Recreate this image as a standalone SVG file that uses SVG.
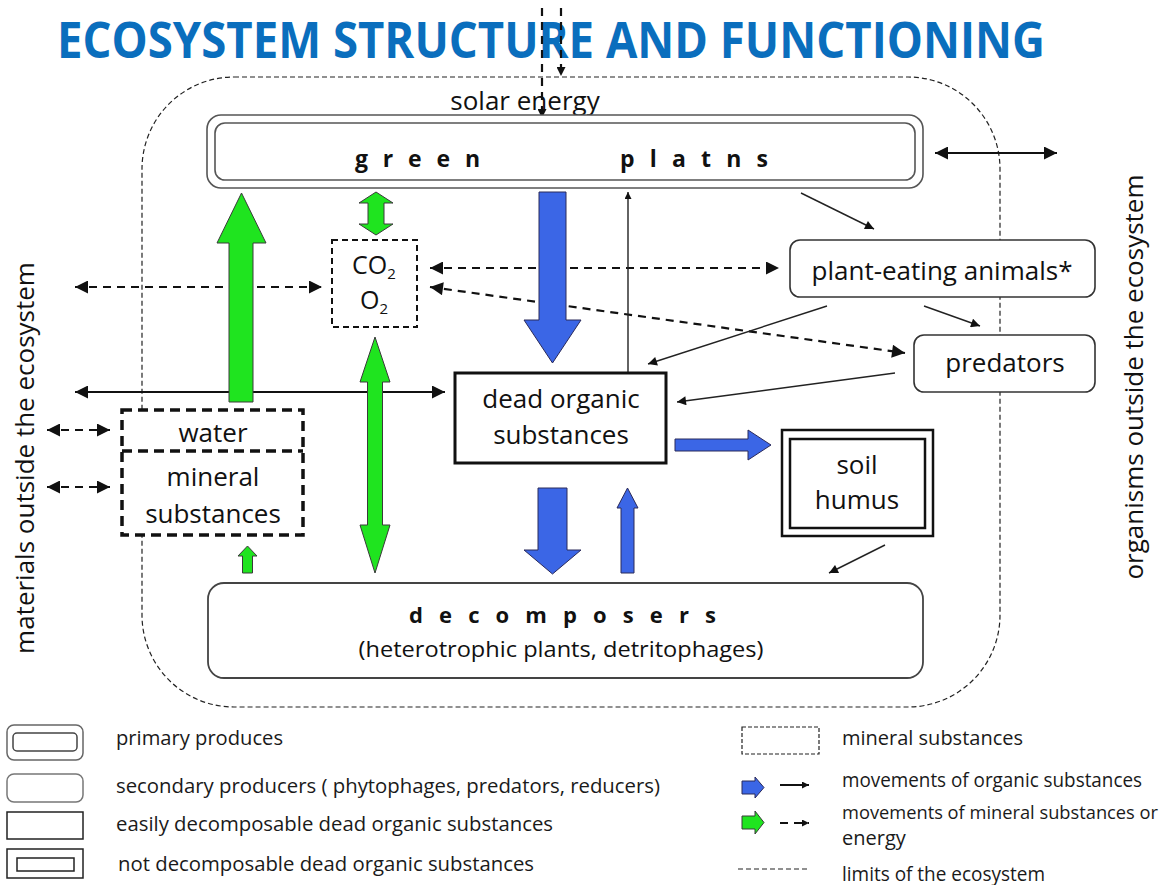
<svg xmlns="http://www.w3.org/2000/svg" width="1176" height="885" viewBox="0 0 1176 885">
<style>
.t{font-family:"Open Sans","Liberation Sans",sans-serif;fill:#111;}
.lbl{font-size:26px;text-anchor:middle;}
.leg{font-size:20px;fill:#1a1a1a;}
.box{fill:#fff;stroke:#333;stroke-width:1.6;}
.gr{fill:#1FE41F;stroke:#3a3a3a;stroke-width:1;}
.bl{fill:#3B66E6;stroke:#2a2a5a;stroke-width:1;}
.dash{fill:none;stroke:#111;stroke-width:2.2;stroke-dasharray:8 6;}
.sol{fill:none;stroke:#111;stroke-width:2;}
.thin{fill:none;stroke:#222;stroke-width:1.4;}
</style>
<defs>
<marker id="ah" viewBox="0 0 10 10" refX="10" refY="5" markerWidth="15" markerHeight="13" markerUnits="userSpaceOnUse" orient="auto-start-reverse"><path d="M0,0 L10,5 L0,10 Z" fill="#111"/></marker>
<marker id="as" viewBox="0 0 10 10" refX="10" refY="5" markerWidth="11" markerHeight="9" markerUnits="userSpaceOnUse" orient="auto-start-reverse"><path d="M0,0 L10,5 L0,10 Z" fill="#111"/></marker>
<marker id="at" viewBox="0 0 10 10" refX="10" refY="5" markerWidth="9" markerHeight="7" markerUnits="userSpaceOnUse" orient="auto-start-reverse"><path d="M0,0 L10,5 L0,10 Z" fill="#111"/></marker>
</defs>
<rect width="1176" height="885" fill="#fff"/>

<text class="t" x="57" y="58" font-size="50" font-weight="bold" fill="#0A6EBD" style="fill:#0A6EBD" textLength="988" lengthAdjust="spacingAndGlyphs">ECOSYSTEM STRUCTURE AND FUNCTIONING</text>

<g id="ecosystem-limit">
<rect x="142" y="77" width="858" height="630" rx="92" ry="92" fill="none" stroke="#222" stroke-width="1.2" stroke-dasharray="5 3"/>
</g>

<g id="outside-labels">
<text class="t" font-size="26" text-anchor="middle" transform="translate(34,458) rotate(-90)">materials outside the ecosystem</text>
<text class="t" font-size="26" text-anchor="middle" transform="translate(1143,377) rotate(-90)">organisms outside the ecosystem</text>
</g>

<g id="connectors">
<line class="dash" x1="542" y1="8" x2="542" y2="118" stroke-dasharray="9 5" marker-end="url(#as)"/>
<line class="dash" x1="561" y1="8" x2="561" y2="76" stroke-dasharray="9 5" marker-end="url(#as)"/>
<line class="sol" x1="935" y1="153" x2="1057" y2="153" stroke-width="2.5" marker-start="url(#ah)" marker-end="url(#ah)"/>
<line class="sol" x1="75" y1="392" x2="445" y2="392" marker-start="url(#ah)" marker-end="url(#ah)"/>
<line class="dash" x1="75" y1="287" x2="322" y2="287" marker-start="url(#ah)" marker-end="url(#ah)"/>
<line class="dash" x1="430" y1="268" x2="779" y2="268" marker-start="url(#ah)" marker-end="url(#ah)"/>
<line class="dash" x1="430" y1="287" x2="905" y2="353" marker-start="url(#ah)" marker-end="url(#ah)"/>
<line class="dash" x1="47" y1="430" x2="110" y2="430" marker-start="url(#ah)" marker-end="url(#ah)"/>
<line class="dash" x1="47" y1="487" x2="110" y2="487" marker-start="url(#ah)" marker-end="url(#ah)"/>
<line class="thin" x1="628" y1="372" x2="628" y2="192" stroke-width="1.2" marker-end="url(#at)"/>
<line class="thin" x1="801" y1="193" x2="874" y2="229" marker-end="url(#as)"/>
<line class="thin" x1="924" y1="306" x2="980" y2="326" marker-end="url(#as)"/>
<line class="thin" x1="827" y1="306" x2="648" y2="364" marker-end="url(#as)"/>
<line class="thin" x1="895" y1="373" x2="677" y2="402" marker-end="url(#as)"/>
<line class="thin" x1="885" y1="545" x2="829" y2="573" marker-end="url(#as)"/>
<path class="gr" d="M229,402 L229,243 L217,243 L241.5,193 L266,243 L253,243 L253,402 Z"/>
<path class="gr" d="M376,192 L393,203 L384,203 L384,224 L393,224 L376,235 L359,224 L368,224 L368,203 L359,203 Z"/>
<path class="gr" d="M375,337 L390,382 L382.5,382 L382.5,525 L390,525 L375,573 L360,525 L367.5,525 L367.5,382 L360,382 Z"/>
<path class="gr" d="M242.5,573 L242.5,556 L238,556 L247.5,546 L257,556 L252.5,556 L252.5,573 Z"/>
<path class="bl" d="M539,192 L566,192 L566,320 L581,320 L552.5,363 L524,320 L539,320 Z"/>
<path class="bl" d="M538,488 L567,488 L567,550 L581,550 L552.5,574 L524,550 L538,550 Z"/>
<path class="bl" d="M621,573 L621,508 L617,508 L627.5,488 L638,508 L634,508 L634,573 Z"/>
<path class="bl" d="M675,439 L748,439 L748,430 L771,445 L748,460 L748,451 L675,451 Z"/>
</g>

<g id="solar-energy">
<text class="t lbl" x="525" y="110">solar energy</text>
</g>

<g id="green-plants">
<rect x="207" y="115" width="716" height="73" rx="14" fill="#fff" stroke="#555" stroke-width="1.6"/>
<rect x="215" y="123" width="700" height="57" rx="10" fill="#fff" stroke="#555" stroke-width="1.6"/>
<text class="t" x="355" y="167" font-size="23" font-weight="bold" textLength="125" lengthAdjust="spacing">g r e e n</text>
<text class="t" x="620" y="167" font-size="23" font-weight="bold" textLength="148" lengthAdjust="spacing">p l a t n s</text>
</g>

<g id="co2-o2">
<rect x="332" y="240" width="85" height="87" fill="#fff" stroke="#111" stroke-width="2" stroke-dasharray="6 4"/>
<text class="t lbl" x="374" y="274" font-size="25" style="font-size:25px">CO<tspan font-size="15" dy="5">2</tspan></text>
<text class="t lbl" x="374" y="309" font-size="25" style="font-size:25px">O<tspan font-size="15" dy="5">2</tspan></text>
</g>

<g id="plant-eating-animals">
<rect class="box" x="790" y="240" width="305" height="57" rx="10"/>
<text class="t lbl" x="942" y="280">plant-eating animals*</text>
</g>

<g id="predators">
<rect class="box" x="914" y="335" width="181" height="57" rx="10"/>
<text class="t lbl" x="1005" y="372">predators</text>
</g>

<g id="dead-organic-substances">
<rect x="455" y="373" width="211" height="90" fill="#fff" stroke="#111" stroke-width="3"/>
<text class="t lbl" x="561" y="408">dead organic</text>
<text class="t lbl" x="561" y="444">substances</text>
</g>

<g id="soil-humus">
<rect x="782" y="430" width="151" height="106" fill="#fff" stroke="#111" stroke-width="2.5"/>
<rect x="790" y="439" width="135" height="89" fill="none" stroke="#111" stroke-width="2.5"/>
<text class="t lbl" x="857" y="474">soil</text>
<text class="t lbl" x="857" y="509">humus</text>
</g>

<g id="water-mineral">
<rect x="122" y="410" width="181" height="125" fill="#fff" stroke="#111" stroke-width="3.5" stroke-dasharray="10 6"/>
<line x1="122" y1="451" x2="303" y2="451" stroke="#111" stroke-width="3.5" stroke-dasharray="10 6"/>
<text class="t lbl" x="213" y="442">water</text>
<text class="t lbl" x="213" y="486">mineral</text>
<text class="t lbl" x="213" y="523">substances</text>
</g>

<g id="decomposers">
<rect x="208" y="583" width="715" height="95" rx="16" fill="#fff" stroke="#444" stroke-width="1.8"/>
<text class="t" x="409" y="623" font-size="22" font-weight="bold" textLength="307" lengthAdjust="spacing">d e c o m p o s e r s</text>
<text class="t" x="561" y="657" font-size="21" text-anchor="middle" textLength="405" lengthAdjust="spacingAndGlyphs">(heterotrophic plants, detritophages)</text>
</g>

<g id="legend">
<rect x="7" y="725" width="76" height="35" rx="7" fill="#fff" stroke="#666" stroke-width="1.5"/>
<rect x="13" y="733" width="64" height="18" rx="4" fill="#fff" stroke="#444" stroke-width="1.5"/>
<text class="t leg" x="116" y="745" textLength="167" lengthAdjust="spacingAndGlyphs">primary produces</text>
<rect x="7" y="774" width="76" height="28" rx="7" fill="#fff" stroke="#777" stroke-width="1.5"/>
<text class="t leg" x="116" y="793" textLength="544" lengthAdjust="spacingAndGlyphs">secondary producers ( phytophages, predators, reducers)</text>
<rect x="7" y="812" width="76" height="27" fill="#fff" stroke="#222" stroke-width="1.5"/>
<text class="t leg" x="116" y="831" textLength="437" lengthAdjust="spacingAndGlyphs">easily decomposable dead organic substances</text>
<rect x="7" y="849" width="76" height="29" fill="#fff" stroke="#222" stroke-width="1.5"/>
<rect x="17" y="858" width="57" height="13" fill="#fff" stroke="#222" stroke-width="1.5"/>
<text class="t leg" x="118" y="871" textLength="416" lengthAdjust="spacingAndGlyphs">not decomposable dead organic substances</text>

<rect x="742" y="727" width="77" height="27" fill="#fff" stroke="#222" stroke-width="1.2" stroke-dasharray="4 2"/>
<text class="t leg" x="842" y="745" textLength="181" lengthAdjust="spacingAndGlyphs">mineral substances</text>
<path class="bl" d="M742,781 L755,781 L755,777 L764,787.5 L755,798 L755,794 L742,794 Z"/>
<line class="sol" x1="780" y1="785" x2="809" y2="785" stroke-width="1.6" marker-end="url(#at)"/>
<text class="t leg" x="842" y="787" textLength="300" lengthAdjust="spacingAndGlyphs">movements of organic substances</text>
<path class="gr" d="M742,816 L755,816 L755,811 L764,822.5 L755,834 L755,829 L742,829 Z"/>
<line class="dash" x1="780" y1="823" x2="809" y2="823" stroke-width="2" stroke-dasharray="7 6" marker-end="url(#at)"/>
<text class="t leg" x="842" y="819" font-size="18.5" style="font-size:18.5px" textLength="316" lengthAdjust="spacingAndGlyphs">movements of mineral substances or</text>
<text class="t leg" x="842" y="845">energy</text>
<line x1="738" y1="869" x2="810" y2="869" stroke="#222" stroke-width="1.2" stroke-dasharray="5 3"/>
<text class="t leg" x="842" y="881" textLength="203" lengthAdjust="spacingAndGlyphs">limits of the ecosystem</text>
</g>
</svg>
